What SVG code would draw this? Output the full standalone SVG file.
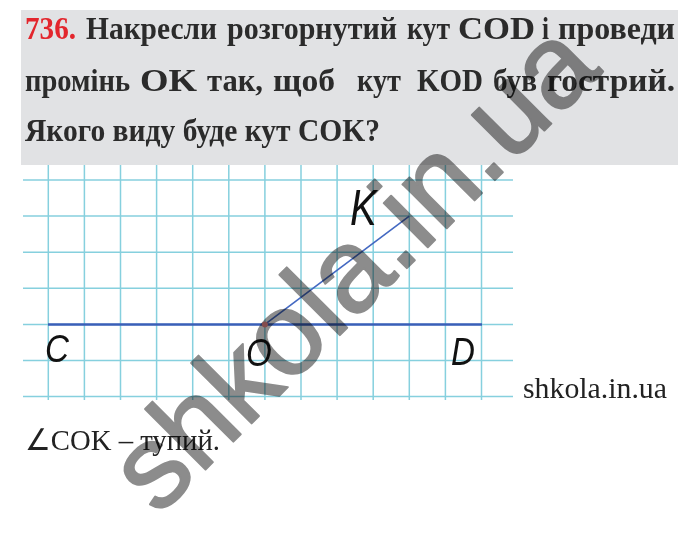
<svg xmlns="http://www.w3.org/2000/svg" width="700" height="550" viewBox="0 0 700 550">
<style>
.q{font-family:"Liberation Serif","Times New Roman",serif;font-weight:bold;font-size:32px;fill:#2b2b2b}
.num{fill:#e3262d}
.ans{font-family:"Liberation Serif","Times New Roman",serif;font-size:30px;fill:#222}
.g{stroke:#86d0de;stroke-width:1.5;fill:none}
.hand{font-family:"Liberation Sans",Arial,sans-serif;font-style:italic;font-size:39px;fill:#111}
.wm{font-family:"Liberation Sans",Arial,sans-serif;font-size:118px;fill:#8c8c8c;stroke:#8c8c8c;stroke-width:2;stroke-linejoin:round;mix-blend-mode:multiply}
</style>
<rect width="700" height="550" fill="#fff"/>
<rect x="21" y="10" width="657" height="155" fill="#e1e2e4"/>
<g id="question">
<g>
<text class="q num" x="25" y="39" textLength="51" lengthAdjust="spacingAndGlyphs">736.</text>
<text class="q" x="86" y="39" textLength="131" lengthAdjust="spacingAndGlyphs">Накресли</text>
<text class="q" x="227" y="39" textLength="170" lengthAdjust="spacingAndGlyphs">розгорнутий</text>
<text class="q" x="407" y="39" textLength="43" lengthAdjust="spacingAndGlyphs">кут</text>
<text class="q" x="458" y="39" textLength="77" lengthAdjust="spacingAndGlyphs">COD</text>
<text class="q" x="542" y="39" textLength="7" lengthAdjust="spacingAndGlyphs">і</text>
<text class="q" x="558" y="39" textLength="117" lengthAdjust="spacingAndGlyphs">проведи</text>
</g>
<g>
<text class="q" x="25" y="91" textLength="105" lengthAdjust="spacingAndGlyphs">промінь</text>
<text class="q" x="140" y="91" textLength="57" lengthAdjust="spacingAndGlyphs">OK</text>
<text class="q" x="207" y="91" textLength="56" lengthAdjust="spacingAndGlyphs">так,</text>
<text class="q" x="273" y="91" textLength="62" lengthAdjust="spacingAndGlyphs">щоб</text>
<text class="q" x="357" y="91" textLength="44" lengthAdjust="spacingAndGlyphs">кут</text>
<text class="q" x="417" y="91" textLength="66" lengthAdjust="spacingAndGlyphs">KOD</text>
<text class="q" x="493" y="91" textLength="44" lengthAdjust="spacingAndGlyphs">був</text>
<text class="q" x="547" y="91" textLength="128" lengthAdjust="spacingAndGlyphs">гострий.</text>
</g>
<text class="q" x="25" y="141" textLength="355" lengthAdjust="spacingAndGlyphs">Якого виду буде кут COK?</text>
</g>
<g id="grid" class="g">
<path d="M23 180H513M23 216.1H513M23 252.2H513M23 288.3H513M23 324.4H513M23 360.5H513M23 396.6H513"/>
<path d="M48.3 165V400M84.4 165V400M120.5 165V400M156.6 165V400M192.7 165V400M228.8 165V400M264.9 165V400M301 165V400M337.1 165V400M373.2 165V400M409.3 165V400M445.4 165V400M481.5 165V400"/>
</g>
<g id="connectors">
<line x1="48" y1="324.4" x2="482" y2="324.4" stroke="#3b5fb8" stroke-width="2.5"/>
<line x1="264.9" y1="324.4" x2="409.3" y2="216.1" stroke="#4469c2" stroke-width="1.6"/>
</g>
<g id="O"><circle cx="264.9" cy="324.4" r="3" fill="#f08a8a"/><text class="hand" transform="translate(246 366) scale(0.85 1)">O</text></g>
<g id="C"><text class="hand" transform="translate(45 362) scale(0.85 1)">C</text></g>
<g id="D"><text class="hand" transform="translate(451 365) scale(0.85 1)">D</text></g>
<g id="K"><text class="hand" style="font-size:50px" transform="translate(350 225) scale(0.8 1)">K</text></g>
<text class="ans" x="523" y="398" textLength="144" lengthAdjust="spacingAndGlyphs">shkola.in.ua</text>
<text class="ans" x="25" y="450" textLength="195" lengthAdjust="spacingAndGlyphs">∠COK – тупий.</text>
<text class="wm" transform="translate(158 517) rotate(-45)">shkola.in.ua</text>
</svg>
